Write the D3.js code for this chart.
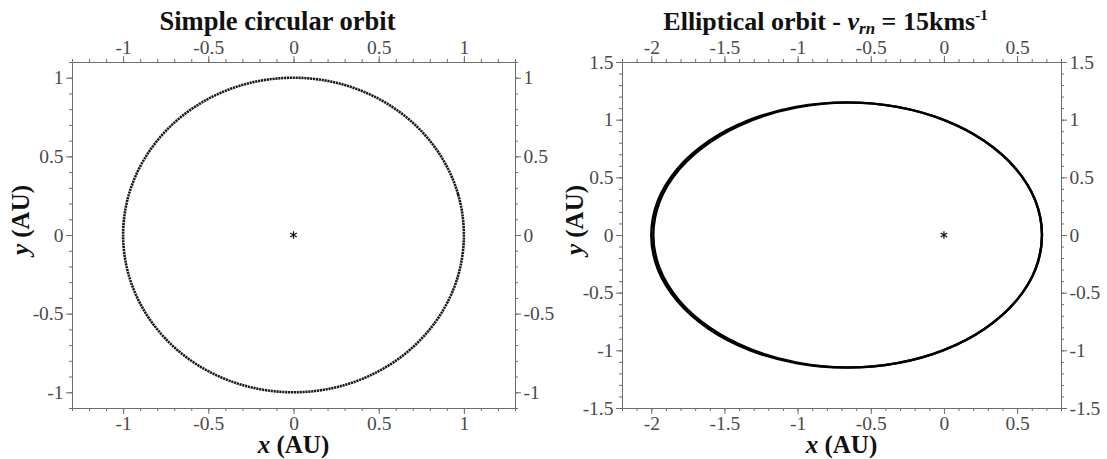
<!DOCTYPE html>
<html>
<head>
<meta charset="utf-8">
<script src="https://cdn.jsdelivr.net/npm/d3@7"></script>
<style>
  body { margin: 0; background: #fff; }
  .domain, .tick line { stroke: #6e6e6e; stroke-width: 1; }
</style>
</head>
<body>
<div id="chart"></div>
<script>
// circular orbit (AU)
const circX = [1, 0.966, 0.866, 0.707, 0.5, 0.259, 0, -0.259, -0.5, -0.707, -0.866, -0.966,
               -1, -0.966, -0.866, -0.707, -0.5, -0.259, 0, 0.259, 0.5, 0.707, 0.866, 0.966];
const circY = [0, 0.259, 0.5, 0.707, 0.866, 0.966, 1, 0.966, 0.866, 0.707, 0.5, 0.259,
               0, -0.259, -0.5, -0.707, -0.866, -0.966, -1, -0.966, -0.866, -0.707, -0.5, -0.259];

// elliptical orbit (AU)
const ellX = [0.67, 0.625, 0.491, 0.279, 0.003, -0.319, -0.665, -1.011, -1.333, -1.609, -1.821, -1.955,
              -2.0, -1.955, -1.821, -1.609, -1.333, -1.011, -0.665, -0.319, 0.003, 0.279, 0.491, 0.625];
const ellY = [0, 0.298, 0.575, 0.813, 0.996, 1.111, 1.15, 1.111, 0.996, 0.813, 0.575, 0.298,
              0, -0.298, -0.575, -0.813, -0.996, -1.111, -1.15, -1.111, -0.996, -0.813, -0.575, -0.298];
// a later revolution, drifting a little on the far side
const ellX2 = [0.67, 0.625, 0.491, 0.279, 0.003, -0.319, -0.662, -1.004, -1.322, -1.596, -1.808, -1.941,
               -1.986, -1.941, -1.808, -1.596, -1.322, -1.004, -0.662, -0.319, 0.003, 0.279, 0.491, 0.625];
const ellY2 = [0, 0.298, 0.575, 0.813, 0.996, 1.111, 1.148, 1.106, 0.99, 0.807, 0.57, 0.295,
               0, -0.295, -0.57, -0.807, -0.99, -1.106, -1.148, -1.111, -0.996, -0.813, -0.575, -0.298];

const sunPos = [0, 0];

const circDomX = [-1.3, 1.3], circDomY = [-1.1, 1.1];
const ellDomX = [-2.2, 0.8], ellDomY = [-1.5, 1.5];
const circTicks = [-1, -0.5, 0, 0.5, 1];
const ellTicksX = [-2, -1.5, -1, -0.5, 0, 0.5];
const ellTicksY = [-1.5, -1, -0.5, 0, 0.5, 1, 1.5];

const W = 1107, H = 459;
const plotTop = 62, plotBottom = 408;
const serif = "'Liberation Serif', 'Times New Roman', Times, 'DejaVu Serif', serif";

const svg = d3.select("#chart").append("svg")
    .attr("width", W)
    .attr("height", H)
    .style("font-family", serif);

function minorTicks(dom) {
    const out = [];
    for (let v = Math.ceil(dom[0] * 10 - 1e-6); v <= Math.floor(dom[1] * 10 + 1e-6); v++) out.push(v / 10);
    return out;
}

function panel(left, right, domX, domY, ticksX, ticksY) {
    const x = d3.scaleLinear().domain(domX).range([left, right]);
    const y = d3.scaleLinear().domain(domY).range([plotBottom, plotTop]);
    const fmt = d => String(d);

    const sides = [
        [d3.axisBottom(x), `translate(0,${plotBottom})`, ticksX, domX],
        [d3.axisTop(x), `translate(0,${plotTop})`, ticksX, domX],
        [d3.axisLeft(y), `translate(${left},0)`, ticksY, domY],
        [d3.axisRight(y), `translate(${right},0)`, ticksY, domY]
    ];
    sides.forEach(([ax, tr, major, dom]) => {
        svg.append("g").attr("transform", tr)
            .call(ax.tickValues(minorTicks(dom)).tickSize(3).tickSizeOuter(0).tickFormat(""))
            .select(".domain").remove();
        const g = svg.append("g").attr("transform", tr)
            .call(ax.tickValues(major).tickSize(6).tickSizeOuter(0).tickPadding(2.5).tickFormat(fmt));
        g.attr("font-family", null).attr("font-size", null);
        g.selectAll("text")
            .style("font-family", serif)
            .style("font-size", "19.5px")
            .attr("fill", "#4a4a4a");
    });
    return { x, y };
}

function orbit(s, xs, ys, opts) {
    const pts = xs.map((v, i) => [v, ys[i]]);
    const line = d3.line()
        .x(d => s.x(d[0]))
        .y(d => s.y(d[1]))
        .curve(d3.curveCatmullRomClosed);
    svg.append("path")
        .attr("d", line(pts))
        .attr("fill", "none")
        .attr("stroke", opts.color)
        .attr("stroke-width", opts.width)
        .attr("stroke-dasharray", opts.dash || null);
}

function star(s) {
    const sym = d3.symbolAsterisk || d3.symbolCross;
    svg.append("path")
        .attr("transform", `translate(${s.x(sunPos[0])},${s.y(sunPos[1])})`)
        .attr("d", d3.symbol(sym, 40)())
        .attr("fill", "none")
        .attr("stroke", "#111")
        .attr("stroke-width", 1.2);
}

function boldText(x, y, size) {
    return svg.append("text")
        .attr("x", x).attr("y", y)
        .attr("text-anchor", "middle")
        .style("font-family", serif)
        .style("font-weight", "bold")
        .style("font-size", size + "px")
        .attr("fill", "#111");
}

function labels(left, right, yLabelX, titleSize, titleFn) {
    const cx = (left + right) / 2;
    titleFn(boldText(cx - 16, 30, titleSize));

    const xl = boldText(cx, 453, 25);
    xl.append("tspan").style("font-style", "italic").text("x");
    xl.append("tspan").text(" (AU)");

    const yl = boldText(0, 0, 25)
        .attr("transform", `translate(${yLabelX},220) rotate(-90)`);
    yl.append("tspan").style("font-style", "italic").text("y");
    yl.append("tspan").text(" (AU)");
}

// left: simple circular orbit
const s1 = panel(72, 515, circDomX, circDomY, circTicks, circTicks);
orbit(s1, circX, circY, { color: "#1a1a1a", width: 2.6, dash: "2.2,0.7" });
star(s1);
labels(72, 515, 29, 26.5, t => t.text("Simple circular orbit"));

// right: elliptical orbit
const s2 = panel(622, 1061, ellDomX, ellDomY, ellTicksX, ellTicksY);
orbit(s2, ellX, ellY, { color: "#000", width: 2.4 });
orbit(s2, ellX2, ellY2, { color: "#000", width: 2.4 });
star(s2);
labels(622, 1061, 583, 26, t => {
    t.append("tspan").text("Elliptical orbit - ");
    t.append("tspan").style("font-style", "italic").text("v");
    t.append("tspan").style("font-style", "italic").style("font-size", "17px")
        .attr("dy", 4).text("rn");
    t.append("tspan").attr("dy", -4).text(" = 15kms");
    t.append("tspan").style("font-size", "15px").attr("dy", -10).text("-1");
});
</script>
</body>
</html>
